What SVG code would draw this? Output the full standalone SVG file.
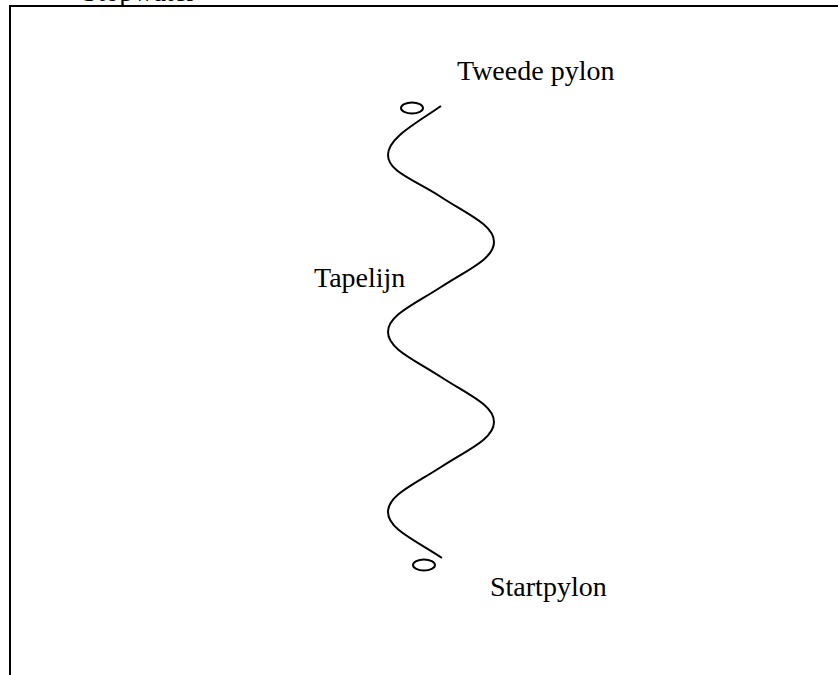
<svg xmlns="http://www.w3.org/2000/svg" width="838" height="675" viewBox="0 0 838 675">
<style>
.t{font-family:"Liberation Serif","Times New Roman",serif;font-size:28px;fill:#000}
.ln{fill:none;stroke:#000;stroke-width:2}
</style>
<rect width="838" height="675" fill="#fff"/>
<g id="frame">
<rect class="ln" x="10" y="6" width="860" height="700"/>
<text class="t" x="82" y="1">Stopwater</text>
</g>
<g id="connectors">
<path id="tapelijn-line" class="ln" d="M441,106 C415,124 388,138 388,155 C388,172 415,180 441,197 C467,214 494,225 494,242 C494,259 467,270 441,287 C415,304 388,315 388,332 C388,349 415,360 441,377 C467,394 494,405 494,422 C494,439 467,450 441,467 C415,484 388,495 388,512 C388,529 415,540 442,558"/>
</g>
<g id="tweede-pylon">
<ellipse class="ln" cx="412" cy="108" rx="11" ry="5.5"/>
<text class="t" x="457" y="80">Tweede pylon</text>
</g>
<g id="startpylon">
<ellipse class="ln" cx="424" cy="565" rx="11" ry="5.5"/>
<text class="t" x="490" y="596">Startpylon</text>
</g>
<g id="tapelijn">
<text class="t" x="314" y="287">Tapelijn</text>
</g>
</svg>
